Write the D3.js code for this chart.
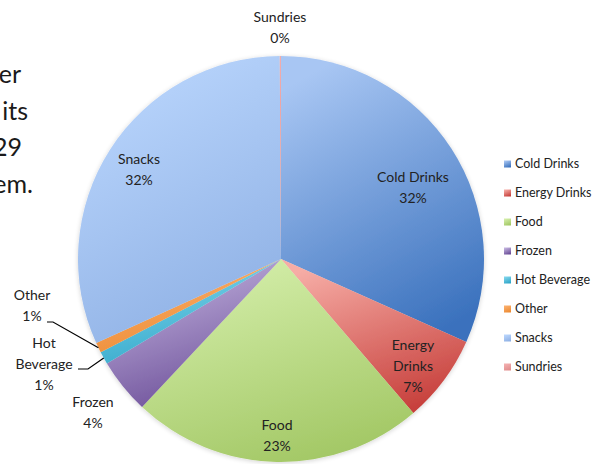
<!DOCTYPE html>
<html>
<head>
<meta charset="utf-8">
<script src="https://cdn.jsdelivr.net/npm/d3@7"></script>
<style>
  html, body { margin: 0; padding: 0; background: #fff; }
  svg { display: block; }
  text { font-family: Lato, "Open Sans", sans-serif; }
</style>
</head>
<body>
<svg id="chart" width="593" height="464"></svg>
<script>
// ---- data ----
const categories = ["Cold Drinks", "Energy Drinks", "Food", "Frozen", "Hot Beverage", "Other", "Snacks", "Sundries"];
const values = [31.7, 7.0, 23.3, 4.4, 1.0, 0.8, 31.7, 0.1];
const percentLabels = ["32%", "7%", "23%", "4%", "1%", "1%", "32%", "0%"];
const bodyTextFragments = ["er", "its", "29", "em."];

// ---- styles / layout ----
const colorsTop =    ["#a8c6f3", "#f6aca5", "#d4eeaa", "#c4b5e0", "#82d6ec", "#fbb06e", "#bad6fd", "#f3b0b0"];
const colorsBottom = ["#3a71bd", "#c63e3a", "#a2c764", "#684a95", "#2ea5c8", "#ec8a32", "#8eb0e4", "#e08c8c"];

const W = 593, H = 464;
const cx = 281, cy = 259, R = 203;

const svg = d3.select("#chart");
const defs = svg.append("defs");

const filt = defs.append("filter").attr("id", "shadow").attr("x", "-10%").attr("y", "-10%").attr("width", "120%").attr("height", "120%");
filt.append("feGaussianBlur").attr("in", "SourceAlpha").attr("stdDeviation", 2.5);
filt.append("feOffset").attr("dx", 0).attr("dy", 1).attr("result", "b");
filt.append("feComponentTransfer").append("feFuncA").attr("type", "linear").attr("slope", 0.18);
const fm = filt.append("feMerge");
fm.append("feMergeNode");
fm.append("feMergeNode").attr("in", "SourceGraphic");

categories.forEach((c, i) => {
  const g = defs.append("linearGradient").attr("id", "g" + i)
    .attr("x1", 0.3).attr("y1", 0).attr("x2", 0.7).attr("y2", 1);
  g.append("stop").attr("offset", "0%").attr("stop-color", colorsTop[i]);
  g.append("stop").attr("offset", "100%").attr("stop-color", colorsBottom[i]);
});

// ---- partial body text on the left (clipped slide text, as in the reference) ----
const bodyX = [21, 28, 22, 33];
const bodyY = [83, 120, 156, 193];
svg.append("g").selectAll("text").data(bodyTextFragments).join("text")
  .attr("x", (d, i) => bodyX[i]).attr("y", (d, i) => bodyY[i])
  .attr("text-anchor", "end")
  .attr("font-size", 25).attr("fill", "#1a1a1a")
  .text(d => d);

// ---- pie ----
const data = categories.map((c, i) => ({ name: c, value: values[i], label: percentLabels[i], i }));
const pie = d3.pie().sort(null).value(d => d.value).startAngle(0).endAngle(2 * Math.PI);
const arcs = pie(data);
const arc = d3.arc().innerRadius(0).outerRadius(R);

const pg = svg.append("g").attr("transform", `translate(${cx},${cy})`).attr("filter", "url(#shadow)");
pg.selectAll("path").data(arcs).join("path")
  .attr("d", arc)
  .attr("fill", d => `url(#g${d.data.i})`);

// ---- labels ----
const labelPos = {
  "Cold Drinks":   { x: 413, y: 182, lines: ["Cold Drinks"] },
  "Energy Drinks": { x: 413, y: 350, lines: ["Energy", "Drinks"] },
  "Food":          { x: 277, y: 430, lines: ["Food"] },
  "Frozen":        { x: 93,  y: 407, lines: ["Frozen"] },
  "Hot Beverage":  { x: 44,  y: 348, lines: ["Hot", "Beverage"] },
  "Other":         { x: 32,  y: 300, lines: ["Other"] },
  "Snacks":        { x: 139, y: 164, lines: ["Snacks"] },
  "Sundries":      { x: 280, y: 22,  lines: ["Sundries"] }
};
const lineH = 21;
const lg = svg.append("g");
arcs.forEach(a => {
  const p = labelPos[a.data.name];
  const t = lg.append("text").attr("text-anchor", "middle")
    .attr("font-size", 14).attr("fill", "#222");
  const lines = p.lines.concat([a.data.label]);
  lines.forEach((ln, k) => {
    t.append("tspan").attr("x", p.x).attr("y", p.y + k * lineH).text(ln);
  });
});

// leader lines for the small outside slices
const leaders = [
  { name: "Other",        sx: 47, sy: 322, hx: 53 },
  { name: "Hot Beverage", sx: 78, sy: 369, hx: 88 }
];
leaders.forEach(L => {
  const a = arcs.find(d => d.data.name === L.name);
  const mid = (a.startAngle + a.endAngle) / 2;
  const ex = cx + R * Math.sin(mid), ey = cy - R * Math.cos(mid);
  svg.append("path")
    .attr("d", `M${L.sx},${L.sy}H${L.hx}L${ex},${ey}`)
    .attr("fill", "none").attr("stroke", "#000").attr("stroke-width", 1.2);
});

// ---- legend ----
const legY0 = 164, legStep = 29;
const leg = svg.append("g");
categories.forEach((c, i) => {
  const y = legY0 + i * legStep;
  leg.append("rect").attr("x", 504).attr("y", y - 3.5).attr("width", 7).attr("height", 7)
    .attr("fill", `url(#g${i})`);
  leg.append("text").attr("x", 515).attr("y", y + 4.4)
    .attr("font-size", 12.5).attr("fill", "#222").text(c);
});
</script>
</body>
</html>
